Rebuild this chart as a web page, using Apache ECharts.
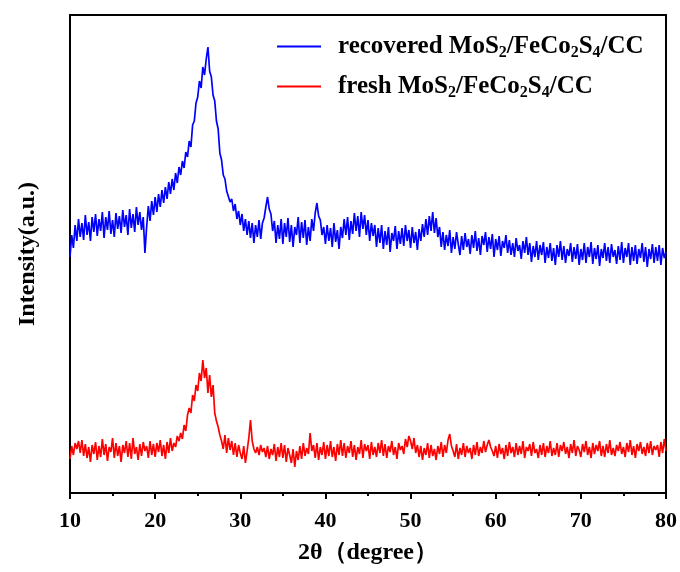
<!DOCTYPE html>
<html>
<head>
<meta charset="utf-8">
<script src="https://cdn.jsdelivr.net/npm/echarts@6/dist/echarts.min.js"></script>
<style>html,body{margin:0;padding:0;background:#fff;}#chart{width:680px;height:572px;}</style>
</head>
<body>
<div id="chart"></div>
<script>
// 2θ sampling of both patterns (degrees)
const angleStart = 10;
const angleStep = 0.2;
const xTicks = [10, 20, 30, 40, 50, 60, 70, 80];

// recovered MoS2/FeCo2S4/CC (arbitrary intensity units; 5 values per degree)
const recovered = [
236,258,245,268,252, 274,256,270,253,278, 258,271,252,276,261, 279,257,274,262,281,
255,276,263,282,259, 273,256,280,264,277, 260,283,266,278,258, 284,265,279,261,286,
268,281,263,276,240, 266,287,272,292,278, 296,281,299,286,303, 290,306,294,311,299,
314,303,320,310,326, 318,332,325,341,336, 352,346,368,372,390, 396,412,405,426,418,
434,446,422,416,398, 392,372,364,340,333, 318,314,302,304,291, 294,282,289,274,282,
268,279,262,274,258, 272,255,270,250,268, 256,273,254,270,275, 286,296,284,279,262,
272,250,268,254,274, 249,270,256,275,251, 268,246,266,258,276, 250,271,255,273,248,
266,252,274,262,280, 290,277,273,258,266, 249,268,252,265,246, 270,251,263,244,266,
255,274,258,276,253, 272,259,280,262,277, 256,281,264,278,258, 273,252,270,257,268,
246,265,250,268,244, 262,248,266,241,260, 252,267,244,262,249, 265,247,268,252,263,
245,266,250,261,243, 264,252,269,256,274, 258,277,262,281,260, 275,256,266,246,261,
243,258,247,263,240, 256,244,261,249,238, 257,243,260,246,254, 239,258,245,262,242,
255,238,257,248,261, 241,256,244,259,236, 254,243,257,237,252, 245,258,240,253,238,
250,236,255,242,248, 234,252,240,256,238, 250,231,247,236,252, 233,248,238,251,230,
246,235,250,232,245, 228,248,236,252,233, 247,230,244,237,250, 231,246,234,249,228,
244,233,250,230,246, 236,251,229,245,234, 248,227,244,235,250, 232,246,230,249,236,
243,229,247,233,251, 230,245,236,250,228, 246,232,248,229,244, 235,250,231,246,226,
244,234,249,230,246, 232,248,228,245,235, 241
];

// fresh MoS2/FeCo2S4/CC
const fresh = [
34,47,38,50,44, 52,40,53,37,49, 35,46,31,48,39, 51,33,47,36,54,
38,49,32,46,41, 55,35,50,37,47, 31,48,40,52,36, 50,34,55,39,46,
33,49,37,51,42, 47,35,52,38,49, 36,50,41,53,37, 48,34,51,40,55,
42,50,46,57,52, 60,54,68,62,78, 85,80,98,92,108, 102,120,112,133,115,
125,100,118,96,108, 80,72,66,58,52, 44,58,40,55,43, 52,38,50,36,48,
40,34,47,30,42, 55,73,52,44,40, 46,38,48,41,45, 36,47,34,44,38,
49,32,46,36,50, 35,48,31,45,38, 30,44,26,42,33, 47,34,50,37,45,
39,60,42,48,35, 50,33,46,38,51, 34,48,37,52,36, 46,32,49,38,53,
37,50,35,47,40, 52,36,48,33,46, 39,53,35,49,42, 48,34,51,38,46,
36,50,40,53,37, 49,35,47,41,52, 38,46,34,50,43, 47,39,54,46,57,
52,44,55,40,48, 36,47,33,45,38, 50,35,48,37,44, 33,47,39,51,36,
48,40,53,59,47, 42,36,49,34,45, 38,50,36,47,40, 45,34,48,38,51,
37,46,40,52,41, 48,53,46,42,37, 47,35,49,39,45, 34,48,37,51,40,
46,36,50,38,47, 39,52,35,46,42, 49,37,51,40,44, 35,48,38,50,36,
47,40,52,37,45, 38,50,36,48,42, 51,39,46,35,49, 40,53,37,47,43,
36,49,41,52,38, 46,35,50,39,48, 42,52,37,47,36, 49,40,53,38,45,
37,48,42,51,39, 46,36,50,41,53, 38,47,35,49,42, 51,39,46,37,50,
40,52,38,47,43, 48,36,51,40,54, 42
];

const toPairs = arr => arr.map((v, i) => [+(angleStart + i * angleStep).toFixed(2), v]);

const serif = '"Liberation Serif", "Times New Roman", serif';
const legendRich = {
  b: { fontFamily: serif, fontWeight: 'bold', fontSize: 25, color: '#000', lineHeight: 28 },
  s: { fontFamily: serif, fontWeight: 'bold', fontSize: 16, color: '#000', lineHeight: 24, padding: [13, 0, 0, 0] }
};
function legendText(name) {
  const prefix = name.startsWith('recovered') ? 'recovered' : 'fresh';
  return '{b|' + prefix + ' MoS}{s|2}{b|/FeCo}{s|2}{b|S}{s|4}{b|/CC}';
}

const chart = echarts.init(document.getElementById('chart'), null, { renderer: 'canvas' });
chart.setOption({
  backgroundColor: '#fff',
  animation: false,
  grid: { left: 70, right: 14, top: 15, bottom: 79, show: true, borderColor: '#000', borderWidth: 2, backgroundColor: 'transparent' },
  legend: {
    orient: 'vertical', left: 272, top: 27, itemWidth: 44, itemHeight: 2, itemGap: 11,
    icon: 'rect',
    formatter: legendText,
    textStyle: { rich: legendRich, padding: [0, 0, 0, 12] },
    data: ['recovered MoS2/FeCo2S4/CC', 'fresh MoS2/FeCo2S4/CC']
  },
  xAxis: {
    type: 'value', min: 10, max: 80, interval: 10,
    name: '2θ（degree）', nameLocation: 'middle', nameGap: 48,
    nameTextStyle: { fontFamily: serif, fontWeight: 'bold', fontSize: 24, color: '#000' },
    axisLine: { show: true, lineStyle: { color: '#000', width: 2 } },
    axisTick: { show: true, inside: false, length: 6, lineStyle: { color: '#000', width: 2 } },
    minorTick: { show: true, splitNumber: 2, length: 3, lineStyle: { color: '#000', width: 2 } },
    axisLabel: { fontFamily: serif, fontWeight: 'bold', fontSize: 22, color: '#000', margin: 17 },
    splitLine: { show: false }
  },
  yAxis: {
    type: 'value', min: 0, max: 478,
    name: 'Intensity(a.u.)', nameLocation: 'middle', nameGap: 30, nameRotate: 90,
    nameTextStyle: { fontFamily: serif, fontWeight: 'bold', fontSize: 24, color: '#000' },
    axisLine: { show: true, lineStyle: { color: '#000', width: 2 } },
    axisTick: { show: false }, axisLabel: { show: false }, splitLine: { show: false }
  },
  series: [
    { name: 'recovered MoS2/FeCo2S4/CC', type: 'line', data: toPairs(recovered), symbol: 'none', lineStyle: { color: '#0000ff', width: 1.7 }, itemStyle: { color: '#0000ff' } },
    { name: 'fresh MoS2/FeCo2S4/CC', type: 'line', data: toPairs(fresh), symbol: 'none', lineStyle: { color: '#ff0000', width: 1.7 }, itemStyle: { color: '#ff0000' } }
  ]
});
</script>
</body>
</html>
